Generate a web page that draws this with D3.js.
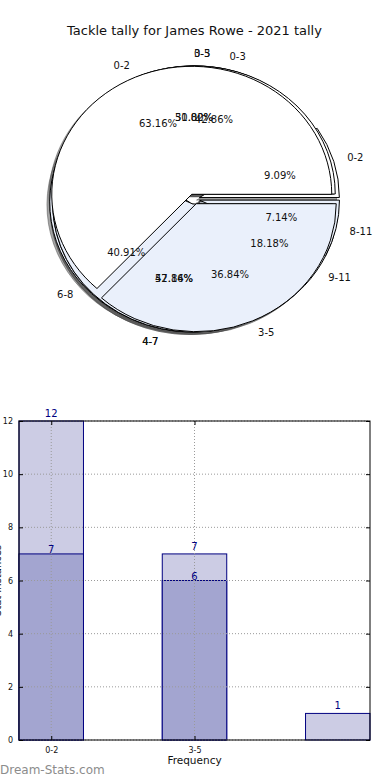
<!DOCTYPE html>
<html>
<head>
<meta charset="utf-8">
<script src="https://cdn.jsdelivr.net/npm/d3@7"></script>
<style>
  body { margin: 0; background: #fff; }
  svg { display: block; font-family: "DejaVu Sans", sans-serif; }
</style>
</head>
<body>
<script>
// pies stacked on top of each other (drawn in this order)
const pieB_labels = ["0-2", "3-5", "6-8", "9-11"];
const pieB_values = [2, 7, 9, 4];
const pieC_labels = ["0-3", "4-7", "8-11"];
const pieC_values = [7, 6, 1];
const pieD_labels = ["0-3", "4-7"];
const pieD_values = [3, 4];
const pieA_labels = ["0-2", "3-5"];
const pieA_values = [12, 7];

// bar chart
const barCategories = ["0-2", "3-5", ""];
const barLight = [12, 7, 1];
const barDark = [7, 6, 0];
const yTicks = [0, 2, 4, 6, 8, 10, 12];

const W = 390, H = 780;
const svg = d3.select("body").append("svg").attr("width", W).attr("height", H);

svg.append("text")
    .attr("x", 194.5).attr("y", 30)
    .attr("text-anchor", "middle").attr("dominant-baseline", "central")
    .attr("font-size", 13).attr("fill", "#111")
    .text("Tackle tally for James Rowe - 2021 tally");

// ---------- pies ----------
const cx = 194, cy = 199, rx = 140, ry = 128;
const explode = 0.04;
const fillCols = ["#ffffff", "#eaf0fb"];

const pies = [
    { labels: pieB_labels, values: pieB_values },
    { labels: pieC_labels, values: pieC_values },
    { labels: pieD_labels, values: pieD_values },
    { labels: pieA_labels, values: pieA_values }
];

const pieGen = d3.pie().sort(null).value(d => d)
    .startAngle(Math.PI / 2).endAngle(Math.PI / 2 - 2 * Math.PI);
const arc = d3.arc().innerRadius(0).outerRadius(1);

// build wedge list
let wedges = [];
pies.forEach((p, pi) => {
    const total = d3.sum(p.values);
    pieGen(p.values).forEach((d, i) => {
        const a = (d.startAngle + d.endAngle) / 2;
        const ux = Math.sin(a), uy = -Math.cos(a);
        wedges.push({
            pie: pi, d: d, ux: ux, uy: uy,
            dx: explode * rx * ux, dy: explode * ry * uy,
            fill: fillCols[i === 0 ? 0 : 1],
            label: p.labels[i],
            pct: d3.format(".2f")(p.values[i] / total * 100) + "%"
        });
    });
});

const pieG = svg.append("g");

// shadows go under everything
pieG.selectAll(".shadow")
    .data(wedges).enter().append("path")
    .attr("class", "shadow")
    .attr("d", w => arc(w.d))
    .attr("transform", w => `translate(${cx + w.dx - 0.02 * rx},${cy + w.dy + 0.02 * ry}) scale(${rx},${ry})`)
    .attr("fill", "#4d4d4d").attr("fill-opacity", 0.5)
    .attr("stroke", "#4d4d4d").attr("stroke-opacity", 0.5)
    .attr("vector-effect", "non-scaling-stroke");

pieG.selectAll(".wedge")
    .data(wedges).enter().append("path")
    .attr("class", "wedge")
    .attr("d", w => arc(w.d))
    .attr("transform", w => `translate(${cx + w.dx},${cy + w.dy}) scale(${rx},${ry})`)
    .attr("fill", w => w.fill)
    .attr("stroke", "#000").attr("stroke-width", 1)
    .attr("stroke-linejoin", "round")
    .attr("vector-effect", "non-scaling-stroke");

pieG.selectAll(".lab")
    .data(wedges).enter().append("text")
    .attr("class", "lab")
    .attr("x", w => cx + (1.1 + explode) * rx * w.ux)
    .attr("y", w => cy + (1.1 + explode) * ry * w.uy)
    .attr("text-anchor", w => w.ux > -1e-9 ? "start" : "end")
    .attr("dominant-baseline", "central")
    .attr("font-size", 10).attr("fill", "#111")
    .text(w => w.label);

pieG.selectAll(".pct")
    .data(wedges).enter().append("text")
    .attr("class", "pct")
    .attr("x", w => cx + (0.6 + explode) * rx * w.ux)
    .attr("y", w => cy + (0.6 + explode) * ry * w.uy)
    .attr("text-anchor", "middle")
    .attr("dominant-baseline", "central")
    .attr("font-size", 10).attr("fill", "#111")
    .text(w => w.pct);

// ---------- bar chart ----------
const plotL = 19, plotR = 370, plotT = 421, plotB = 740;
const barW = 0.45;
const x = d3.scaleLinear().domain([-barW / 2, barCategories.length - 1 + barW / 2]).range([plotL, plotR]);
const y = d3.scaleLinear().domain([0, 12]).range([plotB, plotT]);
const navy = "#000080";

const barG = svg.append("g");

barG.selectAll(".light")
    .data(barLight).enter().append("rect")
    .attr("x", (d, i) => x(i - barW / 2))
    .attr("width", x(barW) - x(0))
    .attr("y", d => y(d))
    .attr("height", d => y(0) - y(d))
    .attr("fill", "#ccccE4").attr("stroke", navy).attr("stroke-width", 1);

barG.selectAll(".dark")
    .data(barDark).enter().filter(d => d > 0).append("rect")
    .attr("x", (d, i) => x(i - barW / 2))
    .attr("width", x(barW) - x(0))
    .attr("y", d => y(d))
    .attr("height", d => y(0) - y(d))
    .attr("fill", "#a3a5d0").attr("stroke", navy).attr("stroke-width", 1);

// grid on top of bars
const grid = svg.append("g").attr("stroke", "#9a9a9a").attr("stroke-dasharray", "1,2").attr("stroke-width", 1);
yTicks.forEach(t => {
    grid.append("line").attr("x1", plotL).attr("x2", plotR).attr("y1", y(t)).attr("y2", y(t));
});
[0, 1].forEach(i => {
    grid.append("line").attr("x1", x(i)).attr("x2", x(i)).attr("y1", plotT).attr("y2", plotB);
});

// value labels
barLight.forEach((v, i) => {
    svg.append("text").attr("x", x(i)).attr("y", y(v) - 4)
        .attr("text-anchor", "middle").attr("font-size", 10).attr("fill", navy).text(v);
});
barDark.forEach((v, i) => {
    if (v > 0) svg.append("text").attr("x", x(i)).attr("y", y(v) - 1)
        .attr("text-anchor", "middle").attr("font-size", 10).attr("fill", navy).text(v);
});

// axes
const yAxis = svg.append("g").attr("transform", `translate(${plotL},0)`)
    .call(d3.axisLeft(y).tickValues(yTicks).tickSize(-4).tickPadding(6));
const yAxisR = svg.append("g").attr("transform", `translate(${plotR},0)`)
    .call(d3.axisRight(y).tickValues(yTicks).tickSize(-4).tickFormat(""));
const xAxis = svg.append("g").attr("transform", `translate(0,${plotB})`)
    .call(d3.axisBottom(x).tickValues([0, 1]).tickFormat(i => barCategories[i]).tickSize(-4).tickPadding(7));
const xAxisT = svg.append("g").attr("transform", `translate(0,${plotT})`)
    .call(d3.axisTop(x).tickValues([0, 1]).tickSize(-4).tickFormat(""));
[yAxis, yAxisR, xAxis, xAxisT].forEach(g => {
    g.select(".domain").remove();
    g.selectAll("text").attr("font-size", 8).attr("fill", "#111").attr("font-family", "DejaVu Sans");
});

svg.append("rect").attr("x", plotL).attr("y", plotT)
    .attr("width", plotR - plotL).attr("height", plotB - plotT)
    .attr("fill", "none").attr("stroke", "#000").attr("stroke-width", 1);

svg.append("text").attr("x", (plotL + plotR) / 2).attr("y", 760)
    .attr("text-anchor", "middle").attr("dominant-baseline", "central")
    .attr("font-size", 10.5).attr("fill", "#111").text("Frequency");

// y label mostly falls off the left edge, as in the original
svg.append("text")
    .attr("transform", `translate(1,${(plotT + plotB) / 2}) rotate(-90)`)
    .attr("text-anchor", "middle")
    .attr("font-size", 10).attr("fill", "#111").text("Stat Instances");

svg.append("text").attr("x", 0).attr("y", 770)
    .attr("dominant-baseline", "central")
    .attr("font-size", 12).attr("fill", "#8c8c8c").text("Dream-Stats.com");
</script>
</body>
</html>
